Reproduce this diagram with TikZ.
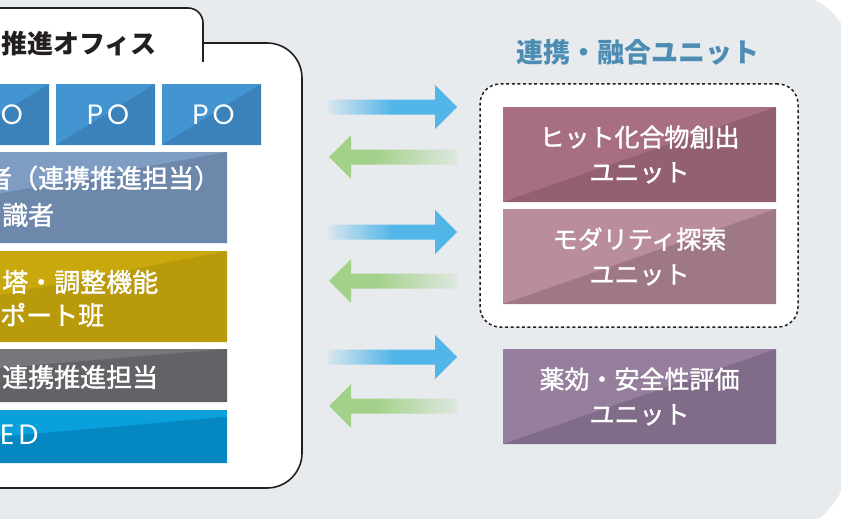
\documentclass[tikz,border=0pt]{standalone}
\usepackage{fontspec}
\setmainfont{Noto Sans CJK JP}
\newfontfamily\cjkmed[FakeBold=1.4]{Noto Sans CJK JP}
\newfontfamily\pofont[LetterSpace=15]{Poppins}
\usetikzlibrary{calc}
\definecolor{bg}{HTML}{E8EBEE}
\definecolor{ink}{HTML}{231F20}
\definecolor{ttlblue}{HTML}{4D8DB3}
\definecolor{poL}{HTML}{4295D0}
\definecolor{poD}{HTML}{3B82BA}
\definecolor{r2L}{HTML}{7F9CC2}
\definecolor{r2D}{HTML}{6E88AB}
\definecolor{r3L}{HTML}{C9A80E}
\definecolor{r3D}{HTML}{B89A0B}
\definecolor{r4L}{HTML}{77777B}
\definecolor{r4D}{HTML}{636367}
\definecolor{r5L}{HTML}{0AA0DC}
\definecolor{r5D}{HTML}{0588C2}
\definecolor{u1L}{HTML}{A86E81}
\definecolor{u1D}{HTML}{936071}
\definecolor{u2L}{HTML}{B98D9A}
\definecolor{u2D}{HTML}{9E7884}
\definecolor{u3L}{HTML}{967F9C}
\definecolor{u3D}{HTML}{806C88}
\definecolor{arrblue}{HTML}{52B6E8}
\definecolor{arrgreen}{HTML}{A3D18A}
\colorlet{bfade}{arrblue!10!bg}
\colorlet{gfade}{arrgreen!15!bg}
\pgfdeclarehorizontalshading{bluefade}{100bp}{color(0bp)=(bfade); color(25bp)=(bfade); color(50bp)=(arrblue); color(100bp)=(arrblue)}
\pgfdeclarehorizontalshading{greenfade}{100bp}{color(0bp)=(arrgreen); color(43bp)=(arrgreen); color(75bp)=(gfade); color(100bp)=(gfade)}
\tikzset{
  box/.style={rectangle, inner sep=0pt, draw=none},
  tt/.style n args={2}{fill=#1, path picture={\fill[#2] (path picture bounding box.south west) -- (path picture bounding box.north east) -- (path picture bounding box.south east) -- cycle;}},
  ltxt/.style={anchor=west, inner sep=0pt, text=white, font=\cjkmed\fontsize{26}{35}\selectfont},
  potxt/.style={inner sep=0pt, text=white, font=\pofont\fontsize{28}{30}\selectfont},
  utxt/.style={text=white, align=center, font=\cjkmed\fontsize{25}{35}\selectfont},
  panelline/.style={draw=ink, line width=1.6pt},
  grpbox/.style={rectangle, draw=ink, line width=1.5pt, dash pattern=on 3pt off 2.6pt, fill=white, rounded corners=20pt, inner sep=0pt},
}
\begin{document}
\begin{tikzpicture}[x=1pt,y=-1pt]
\useasboundingbox (0,0) rectangle (841,519);
\clip (0,0) rectangle (841,519);
\fill[white] (0,0) rectangle (841,519);
% grey panel
\fill[bg, rounded corners=67pt] (-300,-7) rectangle (852,400);
\fill[bg, rounded corners=95pt] (-300,100) rectangle (852,542);
% left white panel with tab
\fill[white, rounded corners=15pt] (-40,8) rectangle (203,60);
\fill[white, rounded corners=35pt] (-60,43) rectangle (302,488);
\draw[panelline, rounded corners=15pt] (-40,8) -- (203,8) -- (203,62);
\draw[panelline, rounded corners=35pt] (203,43) -- (302,43) -- (302,488) -- (-60,488);
\node[anchor=west, inner sep=0pt, text=ink, font=\bfseries\fontsize{26}{30}\selectfont] (ltitle) at (1,43.5) {推進オフィス};
% PO row
\node[box, tt={poL}{poD}, minimum width=99pt, minimum height=61pt] (po1) at (-0.5,114.5) {};
\node[box, tt={poL}{poD}, minimum width=99pt, minimum height=61pt] (po2) at (105.5,114.5) {};
\node[box, tt={poL}{poD}, minimum width=99pt, minimum height=61pt] (po3) at (211.5,114.5) {};
\node[potxt] (po1t) at (12,114.5) {O};
\node[potxt] (po2t) at (108,114.5) {PO};
\node[potxt] (po3t) at (213.5,114.5) {PO};
% rows
\node[box, tt={r2L}{r2D}, minimum width=498pt, minimum height=91pt] (r2) at (-22,197.5) {};
\node[box, tt={r3L}{r3D}, minimum width=469pt, minimum height=91pt] (r3) at (-7.5,296.5) {};
\node[box, tt={r4L}{r4D}, minimum width=631pt, minimum height=53pt] (r4) at (-88.5,375.5) {};
\node[box, fill=r5L, minimum width=527pt, minimum height=53pt] (r5) at (-36.5,436.5) {};
\fill[r5D] (r5.south west) -- ($(r5.north east)+(0,7)$) -- (r5.south east) -- cycle;
\node[ltxt] (r2a) at (-14,178) {者（連携推進担当）};
\node[ltxt] (r2b) at (2,215) {識者};
\node[ltxt] (r3a) at (2,282) {塔・調整機能};
\node[ltxt] (r3b) at (0,315) {ポート班};
\node[ltxt] (r4a) at (2,377) {連携推進担当};
\node[potxt, anchor=west] (r5a) at (0,435) {ED};
% arrows
\foreach \i/\c in {1/107,2/232,3/357}{
  \coordinate (bs\i) at (328,\c);
  \coordinate (be\i) at (457,\c);
  \shade[shading=bluefade] ($(bs\i)+(0,-7.5)$) -- ($(be\i)+(-22,-7.5)$) -- ($(be\i)+(-22,-22)$) -- (be\i) -- ($(be\i)+(-22,22)$) -- ($(be\i)+(-22,7.5)$) -- ($(bs\i)+(0,7.5)$) -- cycle;
}
\foreach \i/\c in {1/157,2/281,3/406}{
  \coordinate (gs\i) at (457,\c);
  \coordinate (ge\i) at (329,\c);
  \shade[shading=greenfade] ($(gs\i)+(0,-7.5)$) -- ($(ge\i)+(22,-7.5)$) -- ($(ge\i)+(22,-22)$) -- (ge\i) -- ($(ge\i)+(22,22)$) -- ($(ge\i)+(22,7.5)$) -- ($(gs\i)+(0,7.5)$) -- cycle;
}
% right side
\node[text=ttlblue, inner sep=0pt, font=\bfseries\fontsize{27}{30}\selectfont] (rtitle) at (638,52) {連携・融合ユニット};
\node[grpbox, minimum width=318pt, minimum height=243pt] (grp) at (639,205.5) {};
\node[box, tt={u1L}{u1D}, minimum width=273pt, minimum height=95pt, utxt] (u1) at (639.5,154.5) {ヒット化合物創出\\ユニット};
\node[box, tt={u2L}{u2D}, minimum width=273pt, minimum height=95pt, utxt] (u2) at (639.5,256.5) {モダリティ探索\\ユニット};
\node[box, tt={u3L}{u3D}, minimum width=273pt, minimum height=95pt, utxt] (u3) at (639.5,396.5) {薬効・安全性評価\\ユニット};
\end{tikzpicture}
\end{document}
